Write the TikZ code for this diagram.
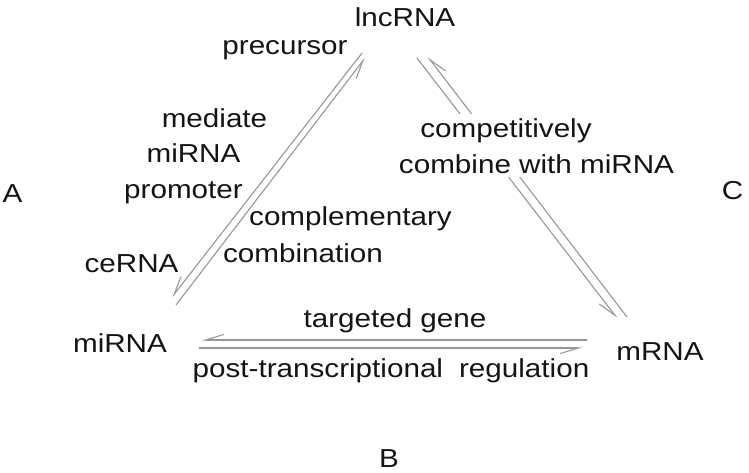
\documentclass[tikz,border=0pt]{standalone}
\usepackage{fontspec}
\setmainfont[FakeStretch=1.14]{Liberation Sans}
\usetikzlibrary{arrows.meta}
\definecolor{linegray}{RGB}{150,150,150}
\definecolor{txt}{RGB}{20,20,20}
\begin{document}
\begin{tikzpicture}[x=1pt,y=-1pt,
  lbl/.style={font={\fontsize{26}{36}\selectfont}, text=txt, inner sep=0pt, anchor=base},
  harp/.style={draw=linegray, line width=1.1pt,
    -{Straight Barb[harpoon,swap,length=18pt,width=11pt]}}
]
\useasboundingbox (0,0) rectangle (749,473);
% connector end points
\coordinate (l1s) at (362,53);  \coordinate (l1e) at (172,297);
\coordinate (l2s) at (176,305); \coordinate (l2e) at (365,58);
\coordinate (r1s) at (627,317); \coordinate (r1e) at (428,57);
\coordinate (r2s) at (417,58);  \coordinate (r2e) at (617,318);
\coordinate (h1s) at (587,340); \coordinate (h1e) at (202,340);
\coordinate (h2s) at (199,348); \coordinate (h2e) at (582,348);
% harpoon pairs
\draw[harp] (l1s) -- (l1e);
\draw[harp] (l2s) -- (l2e);
\draw[harp] (r1s) -- (r1e);
\draw[harp] (r2s) -- (r2e);
\draw[harp] (h1s) -- (h1e);
\draw[harp] (h2s) -- (h2e);
% main nodes
\node[lbl] (lnc) at (405,27) {lncRNA};
\node[lbl] (mir) at (120,352) {miRNA};
\node[lbl] (mrna) at (660,360) {mRNA};
% side letters
\node[lbl] (A) at (12.5,202) {A};
\node[lbl] (B) at (389,467) {B};
\node[lbl] (C) at (732.5,200) {C};
% left edge labels
\node[lbl] (prec) at (285,55) {precursor};
\node[lbl] (med) at (214.5,128) {mediate};
\node[lbl] (mir2) at (193.5,163) {miRNA};
\node[lbl] (prom) at (183.5,198) {promoter};
\node[lbl] (cerna) at (131.5,272) {ceRNA};
\node[lbl] (compl) at (350.5,225) {complementary};
\node[lbl] (comb) at (303,262) {combination};
% right edge labels (cover the connectors)
\node[lbl, fill=white, text height=24pt, text depth=12pt] (compet) at (506,138) {competitively};
\node[lbl, fill=white, text height=24pt, text depth=3pt] (combw) at (536.5,174) {combine with miRNA};
% bottom edge labels
\node[lbl] (targ) at (395,327) {targeted gene};
\node[lbl] (post) at (391,377) {post-transcriptional\hspace{0.3em} regulation};
\end{tikzpicture}
\end{document}
